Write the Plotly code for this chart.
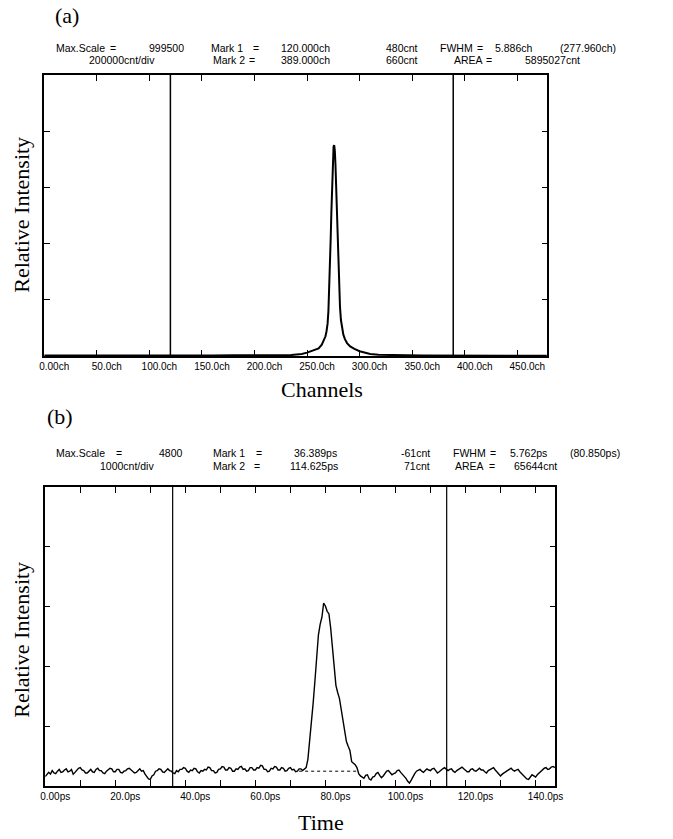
import plotly.graph_objects as go

W, H = 673, 839

# ---------------- Panel (a) data : counts vs channel ----------------
ch_a = [0, 20, 40, 60, 80, 100, 120, 140, 160, 180, 200, 215, 225, 235, 240, 245,
        250, 254, 258, 261, 264, 266, 267.5, 268.5, 269.5, 270.3, 271, 271.7, 272.4,
        273.1, 273.8, 274.5, 275.2, 275.8, 276.4, 277.0, 277.6, 278.3, 279.0, 279.7,
        280.5, 281.3, 282.2, 283.2, 284.5, 286, 288, 291, 295, 300, 305, 310, 318,
        330, 345, 360, 380, 400, 420, 440, 460, 478]
cnt_a = [1500, 1000, 2000, 1200, 1500, 1800, 1200, 2000, 1500, 2500, 2000, 3000, 2500,
         4000, 5000, 7000, 12000, 17000, 21000, 27000, 40000, 55000, 70000, 88000,
         115000, 160000, 230000, 320000, 410000, 510000, 610000, 700000, 745000,
         750000, 730000, 680000, 610000, 510000, 410000, 320000, 240000, 175000,
         128000, 98000, 76000, 60000, 46000, 34000, 25000, 17000, 11000, 7000, 4500,
         3000, 2500, 2000, 1500, 1200, 1500, 1000, 1200, 1000]
marks_a = [120.0, 389.0]
xticks_a = [0, 50, 100, 150, 200, 250, 300, 350, 400, 450]
xlabels_a = ["0.00ch", "50.0ch", "100.0ch", "150.0ch", "200.0ch", "250.0ch",
             "300.0ch", "350.0ch", "400.0ch", "450.0ch"]
yticks_a = [200000, 400000, 600000, 800000]
xrange_a = [0, 478.5]
yrange_a = [0, 999500]

# ---------------- Panel (b) data : counts vs time (0.5 ps bins) ----------------
c_left = [-90, -60, -20, -50, 10, -30, -40, 0, 30, -20,
          -10, 20, 40, -10, 0, 30, -50, -20, 20, 50,
          60, 20, 10, -30, -30, 10, 30, -10, -20, 30,
          50, 10, 10, -30, -40, 0, 20, 50, 40, -10,
          -10, 30, 30, -20, -30, 0, 10, 40, 50, 20,
          0, -30, -20, 20, 40, 0, 10, -50, -90, -130,
          -140, -80, -60, 0, 10, 40, 30, -10, -20, 20,
          40, 10, 0, -30, -40, 10, -10, 30, 30, 60,
          50, 0, -20, 20, 10, 50, 40, -10, -30, 10,
          0, 30, 20, 70, 60, 10, 10, -30, -20, 30,
          40, 80, 70, 20, 20, 60, 50, 0, 0, 40,
          30, 70, 80, 30, 40, 0, 10, 60, 60, 20,
          20, 60, 50, 100, 90, 30, 30, -10, 0, 50,
          40, 80, 70, 20, 20, 60, 50, 0, 10, 50,
          60, 20, 30, -10, 0, 40, 40, 10]
t_left = [0.5 * i for i in range(len(c_left))]          # 0 .. 73.5 ps
t_peak = [74.0, 74.5, 75.0, 75.5, 76.0, 76.5, 77.0, 77.5, 78.0, 78.5, 79.0, 79.5, 80.0,
          80.5, 81.0, 81.5, 82.0, 82.5, 83.0, 83.5, 84.0, 84.5, 85.0, 85.5, 86.0, 86.5,
          87.0, 87.5, 88.0, 88.5, 89.0, 89.5, 90.0]
c_peak = [30, 60, 200, 480, 850, 1150, 1520, 1950, 2300, 2480, 2600, 2840, 2790, 2700,
          2660, 2420, 2050, 1750, 1450, 1330, 1230, 1050, 880, 700, 500, 420, 350, 160,
          140, 110, 60, -40, -80]
c_right = [-100, -120, -70, -60, -130, -150, -100, -90, -40,
           -20, -70, -110, -80, -40, 0, 10, -30, -60, -40,
           -30, 10, 20, -20, -50, -90, -120, -170, -200, -150,
           -90, -40, 0, 20, 30, 0, -20, 10, 40, 20,
           10, 40, 50, 10, -30, -10, 20, 40, 60, 30,
           10, 30, 40, 0, -20, 10, 30, 60, 70, 40,
           20, -10, -10, 30, 40, 10, 0, 30, 50, 20,
           20, -10, -30, 10, 30, 50, 60, 20, -20, -40,
           -80, -50, -30, 0, 20, 40, 50, 20, 0, 20,
           30, -10, -40, -60, -90, -130, -140, -90, -60, -80,
           -100, -60, -30, 0, 20, 50, 60, 30, 40, 70,
           80, 60]
t_right = [90.5 + 0.5 * i for i in range(len(c_right))]  # 90.5 .. 145.5 ps
t_b = t_left + t_peak + t_right
cnt_b = c_left + c_peak + c_right
zero_t_b = [72.5, 89.0]
zero_c_b = [0, 0]
marks_b = [36.389, 114.625]
xticks_b = [0, 10, 20, 30, 40, 50, 60, 70, 80, 90, 100, 110, 120, 130, 140]
xlabels_b = ["0.00ps", "", "20.0ps", "", "40.0ps", "", "60.0ps", "", "80.0ps", "",
             "100.0ps", "", "120.0ps", "", "140.0ps"]
xrange_b = [0, 145.6]
yrange_b = [-250, 4800]
ydiv_b = 5

HDR = "Liberation Sans"
SANS = "Liberation Sans"
SERIF = "Liberation Serif"

fig = go.Figure()
fig.add_trace(go.Scatter(x=ch_a, y=cnt_a, mode="lines", line=dict(color="black", width=2),
                         xaxis="x", yaxis="y", showlegend=False, hoverinfo="skip"))
for m in marks_a:
    fig.add_trace(go.Scatter(x=[m, m], y=yrange_a, mode="lines",
                             line=dict(color="black", width=1.5),
                             xaxis="x", yaxis="y", showlegend=False, hoverinfo="skip"))
fig.add_trace(go.Scatter(x=t_b, y=cnt_b, mode="lines", line=dict(color="black", width=1.4),
                         xaxis="x2", yaxis="y2", showlegend=False, hoverinfo="skip"))
fig.add_trace(go.Scatter(x=zero_t_b, y=zero_c_b, mode="lines",
                         line=dict(color="black", width=1, dash="dot"),
                         xaxis="x2", yaxis="y2", showlegend=False, hoverinfo="skip"))
for m in marks_b:
    fig.add_trace(go.Scatter(x=[m, m], y=yrange_b, mode="lines",
                             line=dict(color="black", width=1.2),
                             xaxis="x2", yaxis="y2", showlegend=False, hoverinfo="skip"))

span_b = yrange_b[1] - yrange_b[0]
yticks_b = [yrange_b[0] + span_b * k / ydiv_b for k in range(1, ydiv_b)]

common = dict(showline=True, linecolor="black", linewidth=1.6, mirror="ticks",
              ticks="inside", tickcolor="black", showgrid=False, zeroline=False,
              tickwidth=1.2)

fig.update_layout(
    width=W, height=H, margin=dict(l=0, r=0, t=0, b=0),
    paper_bgcolor="white", plot_bgcolor="white",
    xaxis=dict(domain=[40 / W, 553 / W], range=xrange_a, tickvals=xticks_a,
               ticktext=xlabels_a, ticklen=6, ticklabelshift=10,
               tickfont=dict(family=SANS, size=10, color="black"), anchor="y", **common),
    yaxis=dict(domain=[1 - 356 / H, 1 - 75 / H], range=yrange_a, tickvals=yticks_a,
               showticklabels=False, ticklen=6, anchor="x", **common),
    xaxis2=dict(domain=[41 / W, 561 / W], range=xrange_b, tickvals=xticks_b,
                ticktext=xlabels_b, ticklen=6, ticklabelshift=10,
                tickfont=dict(family=SANS, size=10, color="black"), anchor="y2", **common),
    yaxis2=dict(domain=[1 - 786 / H, 1 - 487 / H], range=yrange_b, tickvals=yticks_b,
                showticklabels=False, ticklen=5, anchor="x2", **common),
)


def ann(text, x, y, xanchor="left", size=10.5, family=HDR, angle=0):
    return dict(text=text, x=x / W, y=1 - y / H, xref="paper", yref="paper",
                xanchor=xanchor, yanchor="middle", showarrow=False, textangle=angle,
                font=dict(size=size, family=family, color="black"))


anns = [
    ann("(a)", 49, 16, size=22, family=SERIF),
    ann("(b)", 41, 416, size=22, family=SERIF),
    ann("Channels", 323, 389, xanchor="center", size=22, family=SERIF),
    ann("Time", 322, 822, xanchor="center", size=22, family=SERIF),
    ann("Relative Intensity", 16, 215, xanchor="center", size=22, family=SERIF, angle=-90),
    ann("Relative Intensity", 16, 640, xanchor="center", size=22, family=SERIF, angle=-90),
    # header (a)
    ann("Max.Scale", 50, 48), ann("=", 105, 48), ann("999500", 185, 48, "right"),
    ann("Mark 1", 208, 48), ann("=", 251, 48), ann("120.000ch", 333, 48, "right"),
    ann("480cnt", 423, 48, "right"), ann("FWHM", 442, 48), ann("=", 479, 48),
    ann("5.886ch", 498, 48), ann("(277.960ch)", 564, 48),
    ann("200000cnt/div", 155, 60, "right"), ann("Mark 2", 210, 60), ann("=", 247, 60),
    ann("389.000ch", 333, 60, "right"), ann("660cnt", 423, 60, "right"),
    ann("AREA", 456, 60), ann("=", 488, 60), ann("5895027cnt", 588, 60, "right"),
    # header (b)
    ann("Max.Scale", 50, 453), ann("=", 111, 453), ann("4800", 184, 453, "right"),
    ann("Mark 1", 210, 453), ann("=", 254, 453), ann("36.389ps", 341, 453, "right"),
    ann("-61cnt", 435, 453, "right"), ann("FWHM", 455, 453), ann("=", 493, 453),
    ann("5.762ps", 513, 453), ann("(80.850ps)", 574, 453),
    ann("1000cnt/div", 154, 466, "right"), ann("Mark 2", 210, 466), ann("=", 252, 466),
    ann("114.625ps", 342, 466, "right"), ann("71cnt", 435, 466, "right"),
    ann("AREA", 457, 466), ann("=", 492, 466), ann("65644cnt", 565, 466, "right"),
]
fig.update_layout(annotations=anns)

fig.write_html("out.html")
